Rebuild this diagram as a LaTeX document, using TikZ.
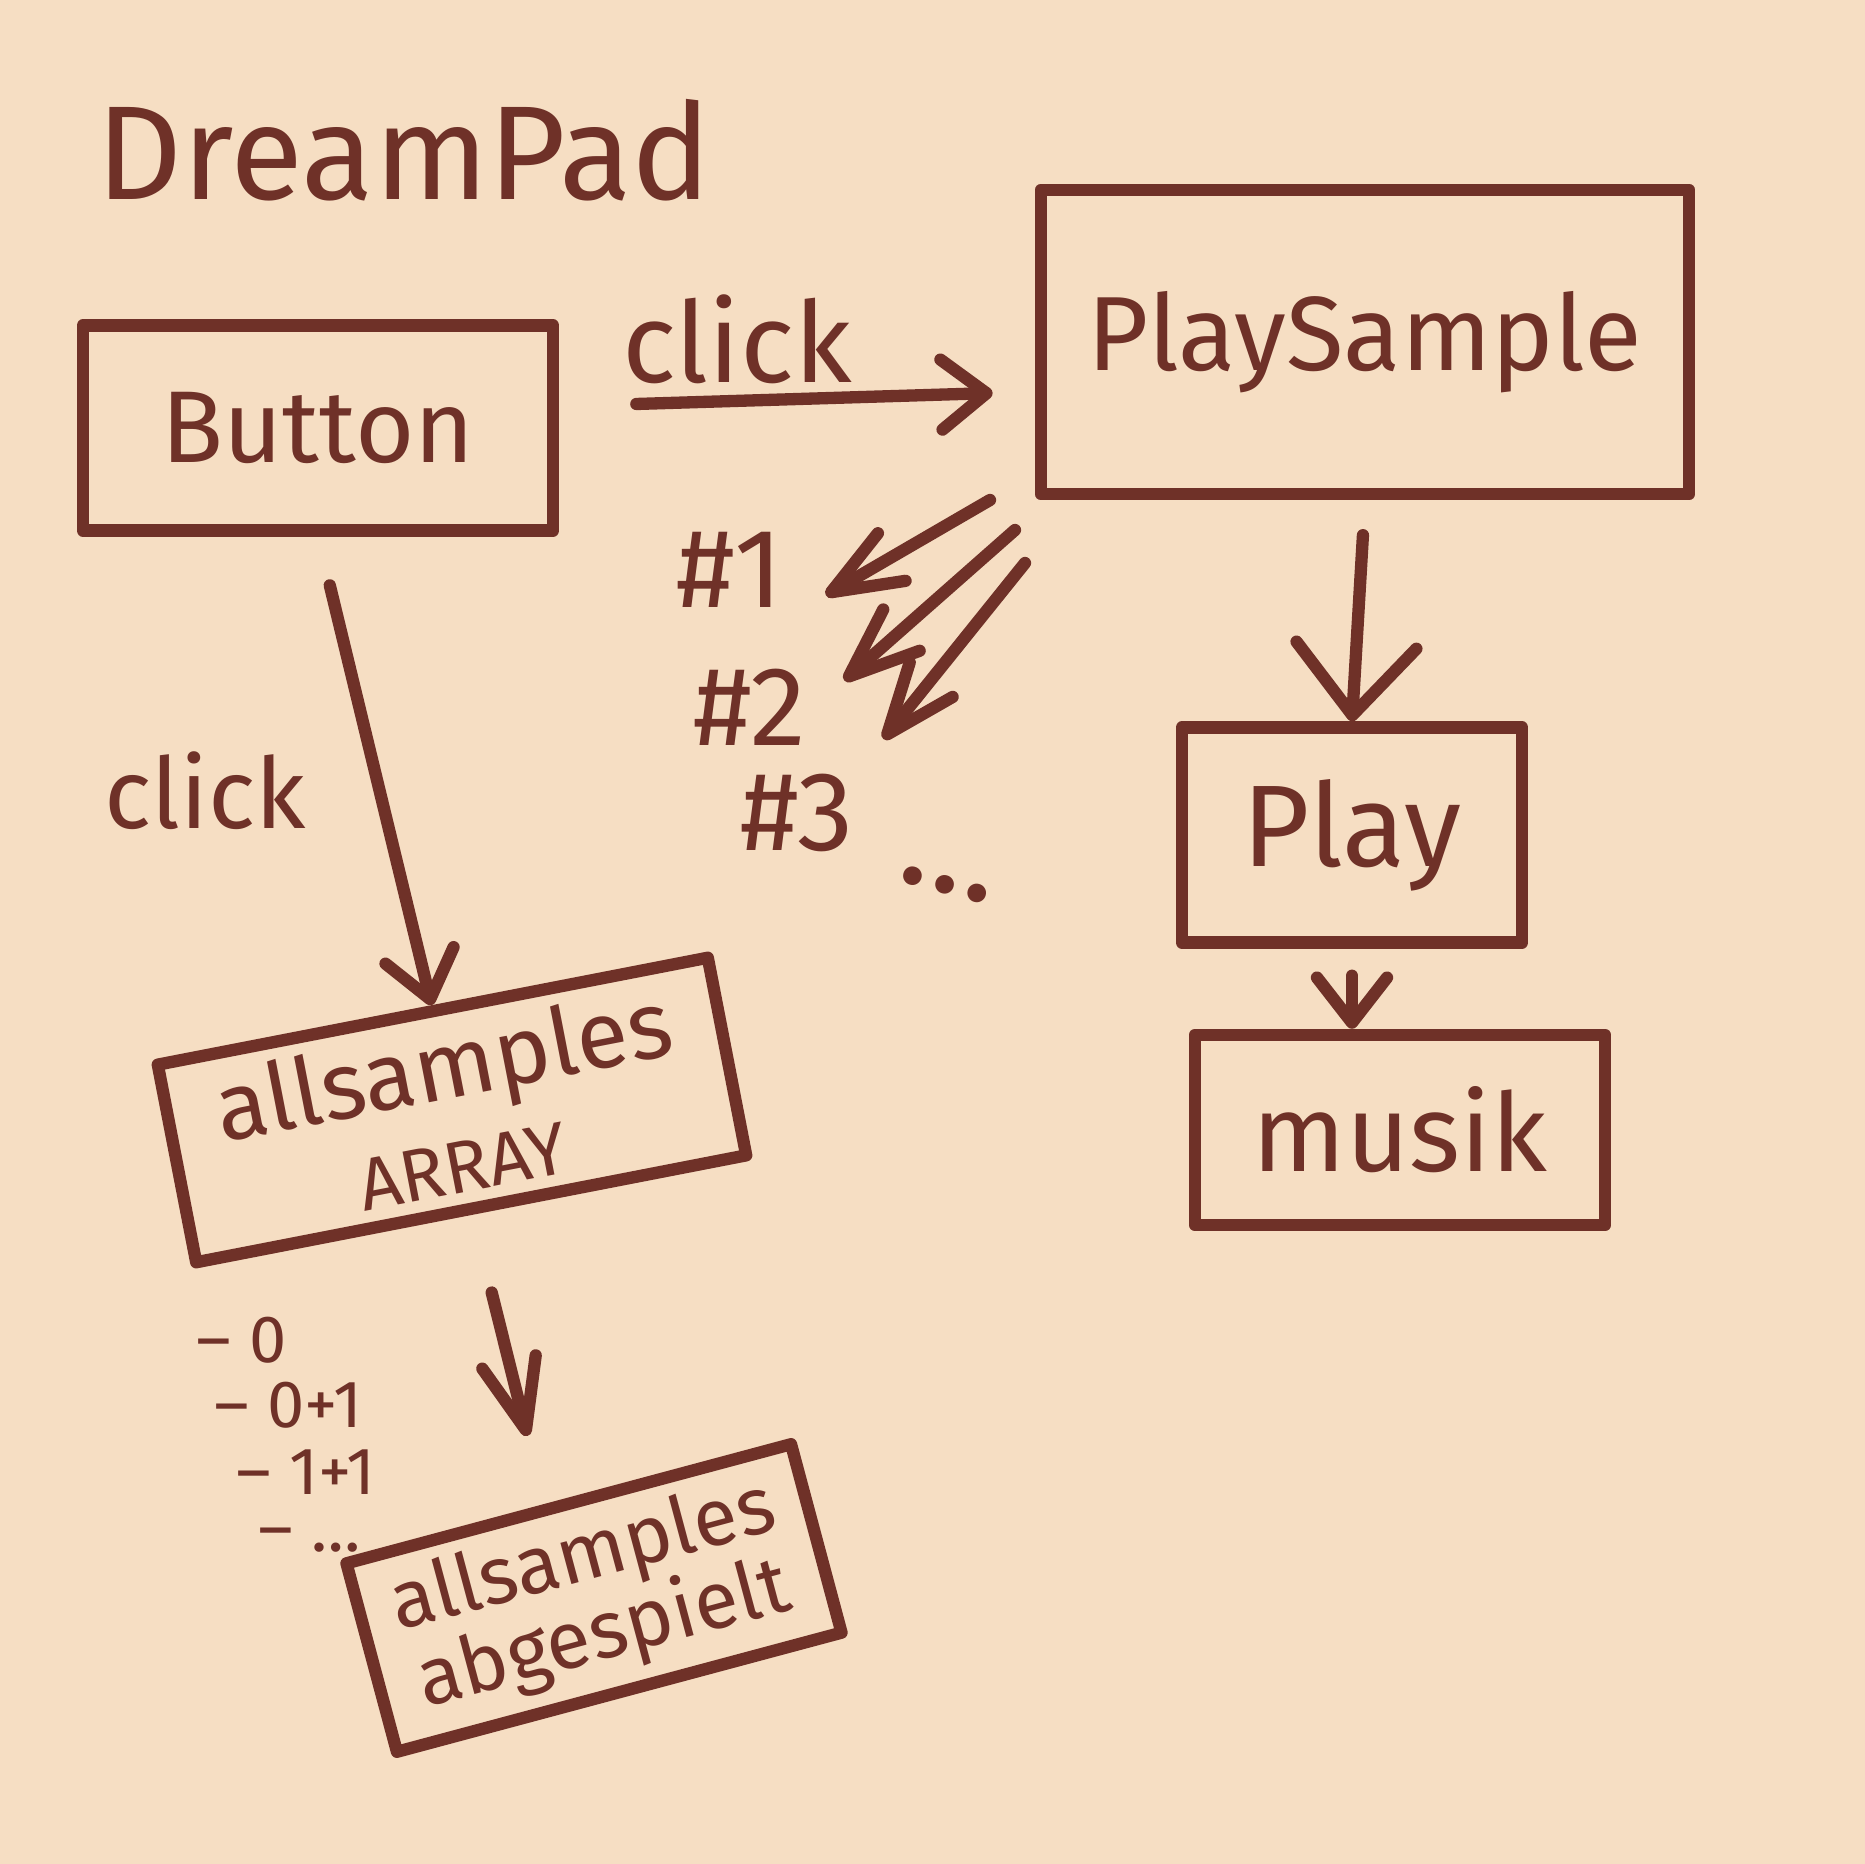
\documentclass[tikz,border=0pt]{standalone}
\usepackage{fontspec}
\setmainfont{Fira Sans}
\usetikzlibrary{arrows.meta,calc,positioning}
\definecolor{cInk}{HTML}{6F3128}
\definecolor{cPaper}{HTML}{F6DEC3}
\newcommand{\handsize}[1]{\fontsize{#1}{#1}\selectfont}
\tikzset{
  base/.style  ={draw=cInk, line width=3.5pt, text=cInk, align=center,
                 inner sep=5pt, line join=round, line cap=round},
  box/.style   ={base},
  tbox/.style  ={base, rotate=11},
  lbl/.style   ={text=cInk, inner sep=2pt, align=center},
  item/.style  ={text=cInk, inner sep=0pt, anchor=west, font=\handsize{19}},
  arr/.style   ={-{Straight Barb[length=4.5mm,width=7mm,round]}, draw=cInk,
                 line width=3.5pt, line cap=round},
  arrw/.style  ={-{Straight Barb[length=7mm,width=12mm,round]}, draw=cInk,
                 line width=3.5pt, line cap=round},
  arrn/.style  ={-{Straight Barb[length=7mm,width=5.5mm,round]}, draw=cInk,
                 line width=3.5pt, line cap=round},
}

\begin{document}
\begin{tikzpicture}[x=0.01cm, y=-0.01cm]
\fill[cPaper] (0,0) rectangle (1865,1864);

\node[lbl, font=\handsize{38}] (title) at (404,150) {DreamPad};

% left column
\node[box, font=\handsize{29}, minimum width=4.7cm, minimum height=2.05cm] (btn) at (318,428) {Button};
\node[lbl, font=\handsize{28}] (clkB) at (205,791) {click};
\node[tbox, font=\handsize{27}, minimum width=5.6cm, minimum height=1.9cm] (alls) at (452,1110)
   {allsamples\\ {\handsize{21}ARRAY}};
\node[item] (l0) at (196,1340) {-- 0};
\node[item] (l1) at (214,1405) {-- 0+1};
\node[item] (l2) at (236,1472) {-- 1+1};
\node[item] (l3) at (258,1540) {-- \dots};
\node[base, rotate=15, font=\handsize{23}, minimum width=4.6cm, minimum height=1.95cm] (done) at (594,1598)
   {allsamples\\ abgespielt};

% right column
\node[lbl, font=\handsize{32}] (clkA) at (737,339) {click};
\node[box, font=\handsize{30}, minimum width=6.48cm, minimum height=3.04cm] (ps) at (1365,342) {PlaySample};
\node[lbl, font=\handsize{32}] (h1) at (730,570) {\#1};
\node[lbl, font=\handsize{32}] (h2) at (750,707) {\#2};
\node[lbl, font=\handsize{32}] (h3) at (797,813) {\#3};
\node[lbl, font=\handsize{38}, rotate=-15] (hdots) at (945,885) {\dots};
\node[box, font=\handsize{33}, minimum width=3.4cm, minimum height=2.15cm] (play) at (1352,835) {Play};
\node[box, font=\handsize{31}, minimum width=4.1cm, minimum height=1.9cm] (mus) at (1400,1130) {musik};

\coordinate (s1) at (990,500);
\coordinate (s2) at (1015,530);
\coordinate (s3) at (1025,563);

\draw[arr] ([xshift=0.77cm,yshift=0.24cm]btn.east) -- ([xshift=-0.42cm,yshift=-0.51cm]ps.west);
\draw[arr, shorten <=0.5cm] (btn.south) -- (alls.north);
\draw[arrn, shorten <=0.8cm, shorten >=0.7cm] (alls.south) -- ($(done.north west)!0.45!(done.north east)$);
\draw[arrn, shorten >=0.4cm] (s1) -- (h1.south east);
\draw[arrn, shorten >=0.4cm] (s2) -- (h2.east);
\draw[arrn, shorten >=0.35cm] (s3) -- (h3.north east);
\draw[arrw, shorten <=0.35cm] (ps.south) -- (play.north);
\draw[arr, shorten <=0.27cm] (play.south) -- (play.south |- mus.north);
\end{tikzpicture}
\end{document}
